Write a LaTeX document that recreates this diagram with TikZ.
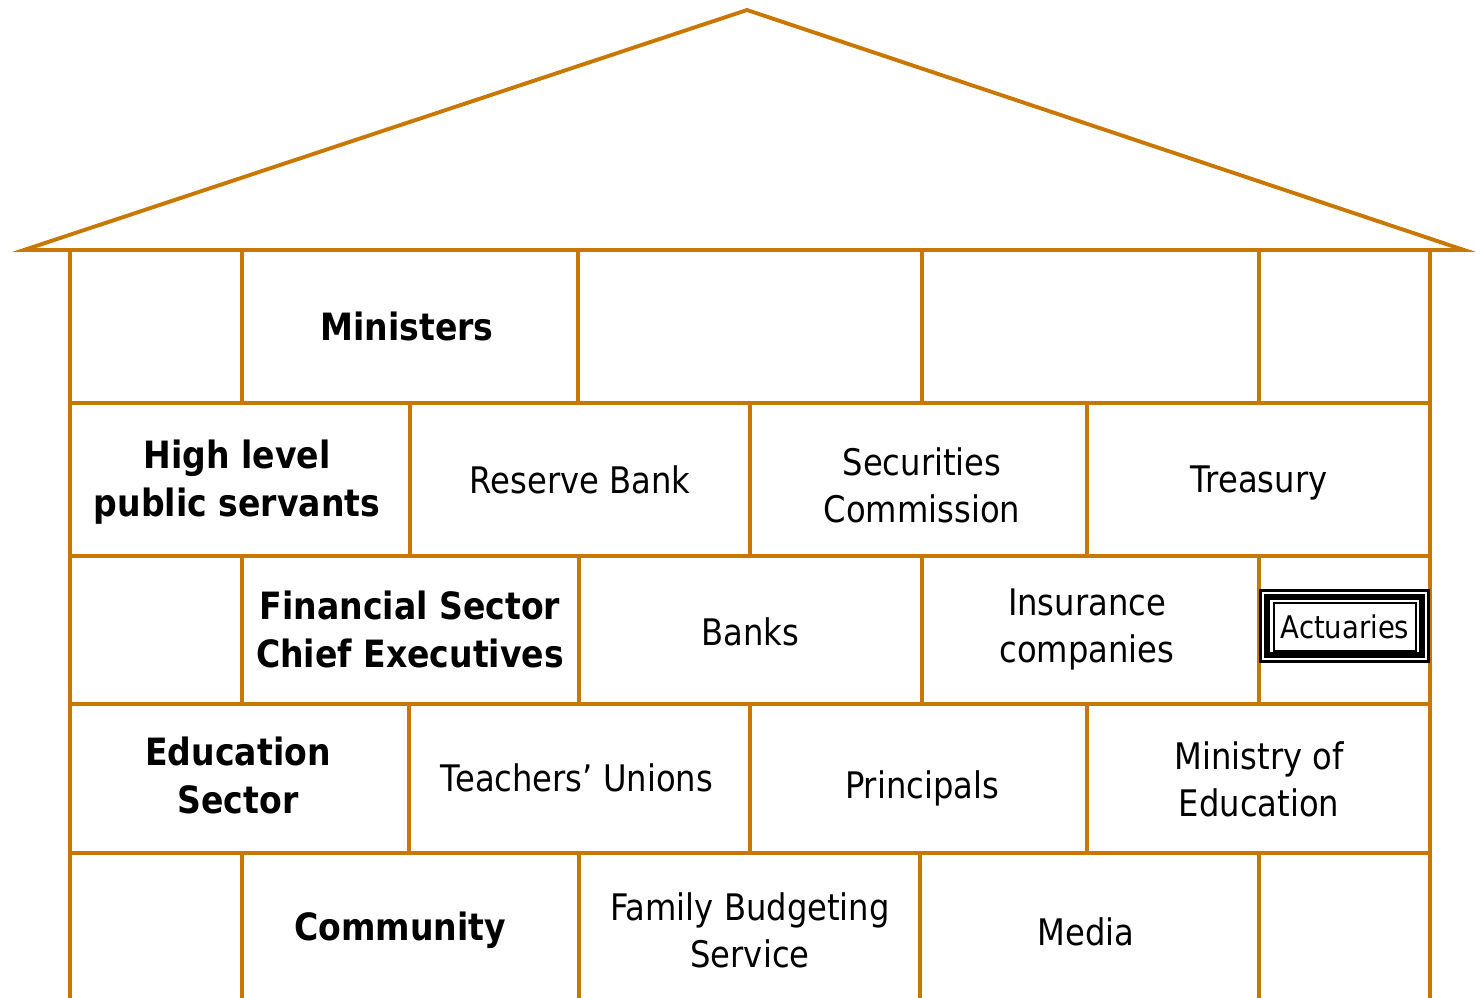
\documentclass[tikz,border=0pt]{standalone}
\usepackage{fontspec}
\setmainfont[FakeStretch=0.88]{DejaVu Sans}
\definecolor{wood}{RGB}{200,120,0}
\begin{document}
\begin{tikzpicture}[x=0.5pt,y=-0.5pt,
  wall/.style={draw=wood,line width=1.95pt},
  lbl/.style={align=center,inner sep=0pt,font=\fontsize{18.3}{23.5}\selectfont},
  blbl/.style={align=center,inner sep=0pt,font=\fontsize{18.8}{24}\selectfont\bfseries},
  actlbl/.style={inner sep=0pt,font=\fontsize{15.6}{18}\selectfont}]
\useasboundingbox (0,0) rectangle (1476,997);
% roof
\draw[wall,line join=miter] (24,250) -- (747,10) -- (1464,250) -- cycle;
% outer walls
\draw[wall] (70,250) -- (70,1000);
\draw[wall] (1430,250) -- (1430,1000);
% floors
\foreach \y in {403,556,704,853}
  \draw[wall] (70,\y) -- (1430,\y);
% row 1 dividers
\foreach \x in {242,578,922,1259}
  \draw[wall] (\x,250) -- (\x,403);
% row 2 dividers
\foreach \x in {410,750,1087}
  \draw[wall] (\x,403) -- (\x,556);
% row 3 dividers
\foreach \x in {242,579,922,1259}
  \draw[wall] (\x,556) -- (\x,704);
% row 4 dividers
\foreach \x in {409,750,1087}
  \draw[wall] (\x,704) -- (\x,853);
% row 5 dividers
\foreach \x in {242,579,920,1259}
  \draw[wall] (\x,853) -- (\x,1000);
% labels
\node[blbl] (ministers) at (407,326) {Ministers};
\node[blbl] (hlps) at (237,482) {High level\\public servants};
\node[lbl] (rb) at (580,480) {Reserve Bank};
\node[lbl] (sc) at (922,485) {Securities\\Commission};
\node[lbl] (tr) at (1259,483) {Treasury};
\node[blbl] (fsce) at (410,629) {Financial Sector\\Chief Executives};
\node[lbl] (banks) at (750,632) {Banks};
\node[lbl] (ins) at (1087,629) {Insurance\\companies};
\node[blbl] (edu) at (238,775) {Education\\Sector};
\node[lbl] (tu) at (577,778) {Teachers’ Unions};
\node[lbl] (pr) at (922,788) {Principals};
\node[lbl] (moe) at (1259,779) {Ministry of\\Education};
\node[blbl] (com) at (400,930) {Community};
\node[lbl] (fbs) at (750,930) {Family Budgeting\\Service};
\node[lbl] (media) at (1086,932) {Media};
% actuaries box
\fill[white] (1259,589) rectangle (1430,663);
\draw[black,line width=1.5pt] (1260.5,590.5) rectangle (1428.5,661.5);
\draw[black,line width=2.6pt] (1267,597) rectangle (1422,655);
\draw[black,line width=1pt] (1273.5,603) rectangle (1416,651);
\node[actlbl] (act) at (1345,627) {Actuaries};
\end{tikzpicture}
\end{document}
